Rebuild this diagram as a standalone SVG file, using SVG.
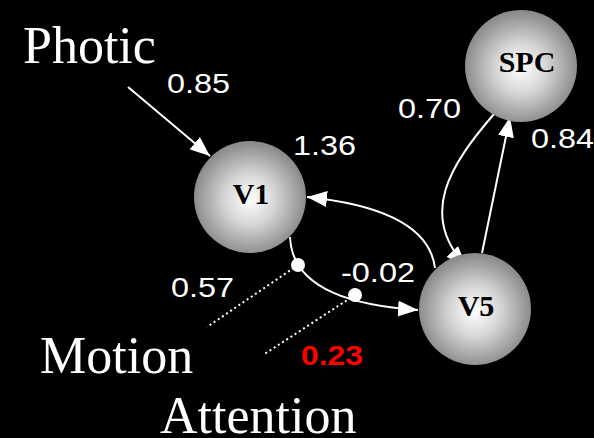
<svg xmlns="http://www.w3.org/2000/svg" width="594" height="438" viewBox="0 0 594 438">
<defs>
<radialGradient id="ball" cx="50%" cy="52%" r="50%">
<stop offset="0" stop-color="#ffffff"/>
<stop offset="0.45" stop-color="#d6d6d6"/>
<stop offset="1" stop-color="#8c8c8c"/>
</radialGradient>
<marker id="ahb" viewBox="0 0 10 10" refX="10" refY="5" markerWidth="20" markerHeight="16" markerUnits="userSpaceOnUse" orient="auto" preserveAspectRatio="none">
<path d="M0,0 L10,5 L0,10 z" fill="#fff"/>
</marker>
</defs>
<style>
.node{fill:url(#ball)}
.nl{font-family:"Liberation Serif",serif;font-weight:bold;font-size:30px;fill:#000;text-anchor:middle}
.big{font-family:"Liberation Serif",serif;font-size:52px;fill:#fff}
.num{font-family:"Liberation Sans",Arial,sans-serif;font-size:28px;fill:#fff}
.red{font-family:"Liberation Sans",Arial,sans-serif;font-size:27px;font-weight:bold;fill:#ff0000}
.edge{fill:none;stroke:#fff;stroke-width:2;marker-end:url(#ahb)}
.dot{stroke:#fff;stroke-width:2;stroke-dasharray:2 3;fill:none}
</style>
<rect width="594" height="438" fill="#000"/>
<g id="connectors">
<line class="edge" x1="128" y1="87" x2="210" y2="156"/>
<path class="edge" d="M435,268 C430,228 385,205 307,197"/>
<path class="edge" d="M290,237 C292,292 360,306 418,310"/>
<path class="edge" d="M494,114 C450,165 418,215 466,266"/>
<line class="edge" x1="482" y1="253" x2="510" y2="117"/>
<line class="dot" x1="298" y1="265" x2="207" y2="327"/>
<line class="dot" x1="355" y1="295" x2="263" y2="355"/>
<circle cx="298" cy="265" r="7" fill="#fff"/>
<circle cx="355" cy="295" r="7" fill="#fff"/>
</g>
<g id="V1">
<circle class="node" cx="250" cy="197" r="56"/>
<text class="nl" x="251" y="204">V1</text>
</g>
<g id="V5">
<circle class="node" cx="475" cy="309" r="56"/>
<text class="nl" x="476" y="316">V5</text>
</g>
<g id="SPC">
<circle class="node" cx="521" cy="66" r="56"/>
<text class="nl" x="527" y="72">SPC</text>
</g>
<g id="labels">
<text class="big" x="23" y="63">Photic</text>
<text class="big" x="40" y="373">Motion</text>
<text class="big" x="160" y="433">Attention</text>
<text class="num" x="167" y="93" textLength="63" lengthAdjust="spacingAndGlyphs">0.85</text>
<text class="num" x="293" y="155" textLength="63" lengthAdjust="spacingAndGlyphs">1.36</text>
<text class="num" x="398" y="118" textLength="63" lengthAdjust="spacingAndGlyphs">0.70</text>
<text class="num" x="531" y="148" textLength="63" lengthAdjust="spacingAndGlyphs">0.84</text>
<text class="num" x="341" y="282" textLength="74" lengthAdjust="spacingAndGlyphs">-0.02</text>
<text class="num" x="171" y="297" textLength="63" lengthAdjust="spacingAndGlyphs">0.57</text>
<text class="red" x="301" y="365" textLength="62" lengthAdjust="spacingAndGlyphs">0.23</text>
</g>
</svg>
